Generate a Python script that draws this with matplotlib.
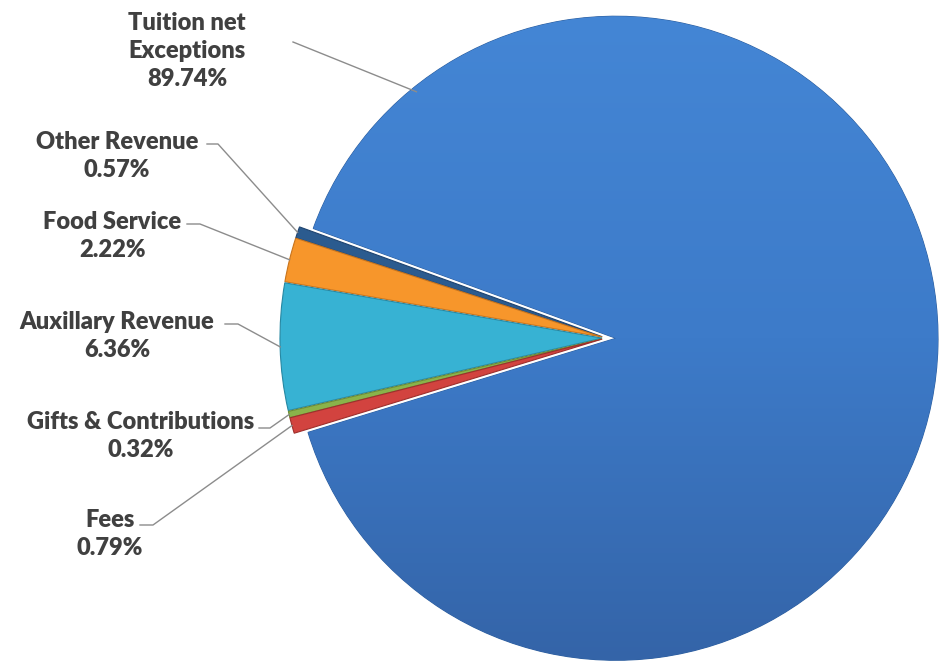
import matplotlib.pyplot as plt
import numpy as np
from matplotlib.colors import LinearSegmentedColormap

plt.rcParams['font.family'] = ['Lato', 'DejaVu Sans']

# data
labels = ['Tuition net\nExceptions', 'Other Revenue', 'Food Service',
          'Auxillary Revenue', 'Gifts & Contributions', 'Fees']
shares = [89.74, 0.57, 2.22, 6.36, 0.32, 0.79]
colors = ['#3f7fcf', '#2b5b8f', '#f7962b', '#37b2d3', '#8ab34a', '#d2433f']
edges = ['#2e5f9e', '#1f4470', '#c8741c', '#2688a3', '#6a8a35', '#9e2f2c']

W, H = 951, 667
fig = plt.figure(figsize=(W / 100, H / 100), dpi=100)
ax = fig.add_axes([0, 0, 1, 1])

# work in pixel units, y measured from the bottom
explode = [10, 4, 4, 4, 4, 4]
wedges, _ = ax.pie(shares, colors=colors, startangle=197, counterclock=True,
                   radius=322, center=(606, H - 338), explode=explode,
                   wedgeprops=dict(linewidth=0.8))
for w, ec in zip(wedges, edges):
    w.set_edgecolor(ec)

# soft top-to-bottom shading on the big slice
grad = np.linspace(0, 1, 256).reshape(-1, 1)
cmap = LinearSegmentedColormap.from_list('tuit', ['#3464a8', '#3d7bc9', '#4486d5'])
im = ax.imshow(grad, extent=(0, W, H - 662, H - 14), origin='lower', cmap=cmap,
               aspect='auto', zorder=1.5)
im.set_clip_path(wedges[0])

# label text centres and leader lines (pixel coords from the top)
label_xy = [(187, 51), (117, 156), (112, 236), (117, 336), (141, 436), (110, 534)]
line_start = [(293, 42), (207, 144), (187, 224), (225, 324), (259, 428), (140, 525)]
elbow_x = [None, 218, 200, 238, 270, 153]

for i, (lab, val) in enumerate(zip(labels, shares)):
    tx, ty = label_xy[i]
    ax.text(tx, H - ty, f'{lab}\n{val:.2f}%', ha='center', va='center',
            multialignment='center', fontsize=17, fontweight='heavy',
            color='#404040', linespacing=1.32, zorder=4)
    w = wedges[i]
    cx, cy = w.center
    if i == 0:
        th = np.deg2rad(129)
        rr = w.r * 0.985
    else:
        th = np.deg2rad((w.theta1 + w.theta2) / 2)
        rr = w.r
    px, py = cx + rr * np.cos(th), cy + rr * np.sin(th)
    sx, sy = line_start[i]
    xs, ys = [sx], [H - sy]
    if elbow_x[i] is not None:
        xs.append(elbow_x[i])
        ys.append(H - sy)
    xs.append(px)
    ys.append(py)
    ax.plot(xs, ys, color='#8c8c8c', lw=1.0, zorder=3)

ax.set_xlim(0, W)
ax.set_ylim(0, H)
ax.set_aspect('equal')
ax.axis('off')

plt.savefig('out.png', dpi=100, facecolor='white')
